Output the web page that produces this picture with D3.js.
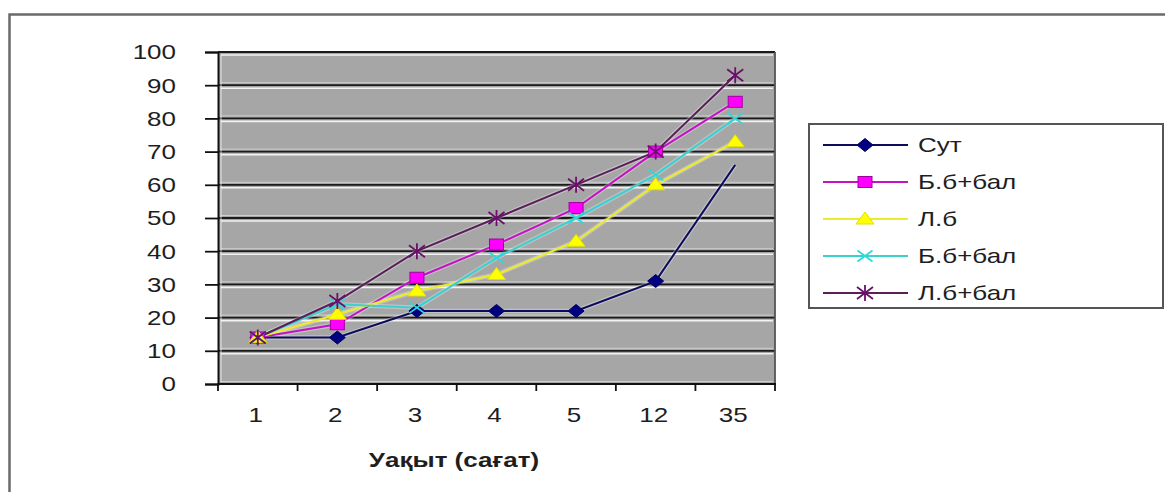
<!DOCTYPE html>
<html>
<head>
<meta charset="utf-8">
<script src="https://cdn.jsdelivr.net/npm/d3@7"></script>
<style>
  body { margin: 0; background: #fff; }
  svg { display: block; }
  text { font-family: "Liberation Sans", Arial, sans-serif; fill: #1e1e1e; }
</style>
</head>
<body>
<svg id="chart" width="1165" height="492"></svg>
<script>
// Time points (hours) along the category axis
const categories = ["1", "2", "3", "4", "5", "12", "35"];

// Series values
const sut    = [14, 14, 22, 22, 22, 31, 66];
const bbBal  = [14, 18, 32, 42, 53, 70, 85];
const lb     = [14, 21, 28, 33, 43, 60, 73];
const bbBal2 = [14, 24, 23, 38, 50, 63, 80];
const lbBal  = [14, 25, 40, 50, 60, 70, 93];

const seriesNames = ["Сут", "Б.б+бал", "Л.б", "Б.б+бал", "Л.б+бал"];
const yTickValues = [0, 10, 20, 30, 40, 50, 60, 70, 80, 90, 100];
const xTitle = "Уақыт (сағат)";

const series = [
  { name: seriesNames[0], values: sut,    line: "#0c0c5c", fill: "#000080", stroke: "#000060", marker: "diamond", lastMarker: false },
  { name: seriesNames[1], values: bbBal,  line: "#c412c4", fill: "#ff00ff", stroke: "#a000a0", marker: "square",  lastMarker: true },
  { name: seriesNames[2], values: lb,     line: "#ecec2a", fill: "#ffff00", stroke: "#e0e000", marker: "triangle",lastMarker: true },
  { name: seriesNames[3], values: bbBal2, line: "#3ad0d0", fill: "none",    stroke: "#30d8d8", marker: "x",       lastMarker: true },
  { name: seriesNames[4], values: lbBal,  line: "#5a1e5a", fill: "none",    stroke: "#6a106a", marker: "star",    lastMarker: true }
];

const svg = d3.select("#chart");
const TX = 1.3; // horizontal stretch applied to all text
const FS = "20px";

// outer chart frame
svg.append("rect")
  .attr("x", 9.5).attr("y", 14.5).attr("width", 1200).attr("height", 520)
  .attr("fill", "none").attr("stroke", "#6a6a6a").attr("stroke-width", 2.5);

const plot = { left: 218, right: 775, top: 52, bottom: 384 };

const x = d3.scaleBand().domain(categories).range([plot.left, plot.right]);
const cx = c => x(c) + x.bandwidth() / 2;
const y = d3.scaleLinear().domain([0, 100]).range([plot.bottom, plot.top]);

// plot background
svg.append("rect")
  .attr("x", plot.left).attr("y", plot.top)
  .attr("width", plot.right - plot.left).attr("height", plot.bottom - plot.top)
  .attr("fill", "#a6a6a6");

// gridlines with light halo
const grid = svg.append("g");
yTickValues.forEach(v => {
  grid.append("line")
    .attr("x1", plot.left + 3).attr("x2", plot.right - 2)
    .attr("y1", y(v) + 3).attr("y2", y(v) + 3)
    .attr("stroke", "#ffffff").attr("stroke-opacity", v === 0 ? 0 : 0.85).attr("stroke-width", 1.6);
  grid.append("line")
    .attr("x1", plot.left + 3).attr("x2", plot.right - 2)
    .attr("y1", y(v) - 2.5).attr("y2", y(v) - 2.5)
    .attr("stroke", "#ffffff").attr("stroke-opacity", v === 100 ? 0 : 0.45).attr("stroke-width", 1);
  grid.append("line")
    .attr("x1", plot.left).attr("x2", plot.right)
    .attr("y1", y(v)).attr("y2", y(v))
    .attr("stroke", "#1a1a1a").attr("stroke-width", 1.8);
});
// inner white edge next to the value axis
svg.append("line")
  .attr("x1", plot.left + 3).attr("x2", plot.left + 3)
  .attr("y1", plot.top + 3).attr("y2", plot.bottom - 2)
  .attr("stroke", "#fff").attr("stroke-opacity", 0.6).attr("stroke-width", 1.2);
// right edge of plot
svg.append("line")
  .attr("x1", plot.right).attr("x2", plot.right)
  .attr("y1", plot.top).attr("y2", plot.bottom + 1)
  .attr("stroke", "#555").attr("stroke-width", 1.8);

// value axis
const yAxis = svg.append("g")
  .attr("transform", `translate(${plot.left},0)`)
  .call(d3.axisLeft(y).tickValues(yTickValues).tickSize(13).tickPadding(0));
yAxis.select(".domain").attr("stroke", "#111").attr("stroke-width", 2);
yAxis.selectAll(".tick line").attr("stroke", "#111").attr("stroke-width", 1.8);
yAxis.selectAll(".tick text")
  .attr("x", 0).attr("dy", "0.34em")
  .attr("transform", `translate(-42,0) scale(${TX},1)`)
  .style("font-size", FS).style("font-family", "'Liberation Sans', Arial, sans-serif")
  .attr("fill", "#1e1e1e");

// category axis
svg.append("line")
  .attr("x1", plot.left - 1).attr("x2", plot.right + 1)
  .attr("y1", plot.bottom).attr("y2", plot.bottom)
  .attr("stroke", "#111").attr("stroke-width", 2);
const xAxis = svg.append("g")
  .attr("transform", `translate(0,${plot.bottom})`)
  .call(d3.axisBottom(x).tickSize(0).tickPadding(0));
xAxis.select(".domain").remove();
xAxis.selectAll(".tick text")
  .attr("y", 0).attr("dy", 0)
  .attr("transform", `translate(-2,38) scale(${TX},1)`)
  .style("font-size", FS).style("font-family", "'Liberation Sans', Arial, sans-serif")
  .attr("fill", "#1e1e1e");
// tick marks between categories
const bounds = categories.map(c => x(c)).concat([x(categories[categories.length - 1]) + x.bandwidth()]);
svg.append("g").selectAll("line").data(bounds).join("line")
  .attr("x1", d => d).attr("x2", d => d)
  .attr("y1", plot.bottom).attr("y2", plot.bottom + 7)
  .attr("stroke", "#111").attr("stroke-width", 1.8);

// axis title
svg.append("text")
  .attr("transform", `translate(454,467) scale(${TX},1)`)
  .attr("text-anchor", "middle")
  .style("font-size", FS).style("font-weight", "bold")
  .text(xTitle);

// marker shapes
function drawMarker(g, s) {
  switch (s.marker) {
    case "diamond":
      g.append("path").attr("d", "M0,-6.5L8,0L0,6.5L-8,0Z")
        .attr("fill", s.fill).attr("stroke", s.stroke).attr("stroke-width", 1);
      break;
    case "square":
      g.append("rect").attr("x", -7).attr("y", -5.5).attr("width", 14).attr("height", 11)
        .attr("fill", s.fill).attr("stroke", s.stroke).attr("stroke-width", 1);
      break;
    case "triangle":
      g.append("path").attr("d", "M0,-7L9,5L-9,5Z")
        .attr("fill", s.fill).attr("stroke", s.stroke).attr("stroke-width", 1);
      break;
    case "x":
      g.append("path").attr("d", "M-7.5,-5.5L7.5,5.5M-7.5,5.5L7.5,-5.5")
        .attr("fill", "none").attr("stroke", s.stroke).attr("stroke-width", 1.8);
      break;
    case "star":
      g.append("path").attr("d", "M-8,-6L8,6M-8,6L8,-6M0,-8L0,8")
        .attr("fill", "none").attr("stroke", s.stroke).attr("stroke-width", 1.8);
      break;
  }
}

// series lines and markers
const lineGen = d3.line().x(d => cx(d.c)).y(d => y(d.v));
series.forEach(s => {
  const pts = s.values.map((v, i) => ({ c: categories[i], v }));
  svg.append("path").datum(pts).attr("d", lineGen)
    .attr("fill", "none").attr("stroke", "#ffffff").attr("stroke-opacity", 0.3).attr("stroke-width", 4.5);
});
series.forEach(s => {
  const pts = s.values.map((v, i) => ({ c: categories[i], v }));
  svg.append("path").datum(pts).attr("d", lineGen)
    .attr("fill", "none").attr("stroke", s.line).attr("stroke-width", 2);
});
series.forEach(s => {
  const pts = s.values.map((v, i) => ({ c: categories[i], v, i }))
    .filter(d => s.lastMarker || d.i < categories.length - 1);
  pts.forEach(d => {
    const g = svg.append("g").attr("transform", `translate(${cx(d.c)},${y(d.v)})`);
    drawMarker(g, s);
  });
});

// legend
const lg = { x: 809, y: 124, w: 354, h: 184 };
svg.append("rect")
  .attr("x", lg.x).attr("y", lg.y).attr("width", lg.w).attr("height", lg.h)
  .attr("fill", "#fff").attr("stroke", "#555").attr("stroke-width", 2);
const rowY = d3.scalePoint().domain(d3.range(series.length)).range([145, 293]);
series.forEach((s, i) => {
  const yy = rowY(i);
  svg.append("line").attr("x1", 823).attr("x2", 908).attr("y1", yy).attr("y2", yy)
    .attr("stroke", s.line).attr("stroke-width", 2);
  drawMarker(svg.append("g").attr("transform", `translate(865,${yy})`), s);
  svg.append("text")
    .attr("transform", `translate(918,${yy}) scale(${TX},1)`)
    .attr("dy", "0.35em")
    .style("font-size", FS)
    .text(s.name);
});
</script>
</body>
</html>
